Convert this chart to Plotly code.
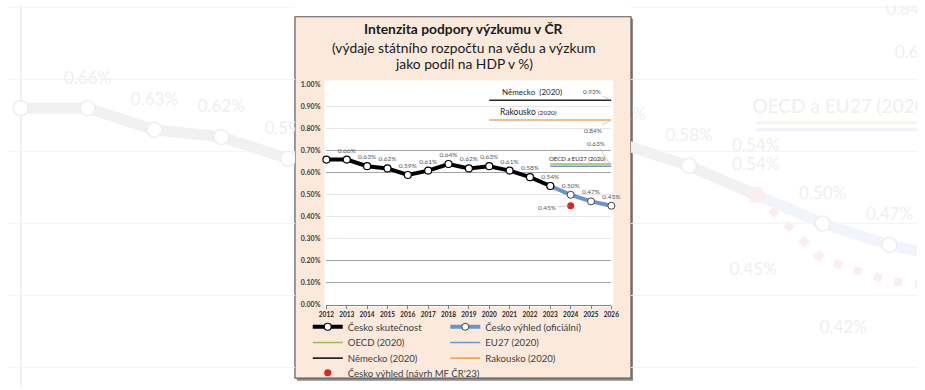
import plotly.graph_objects as go

# ---------------- data ----------------
years_actual = [2012, 2013, 2014, 2015, 2016, 2017, 2018, 2019, 2020, 2021, 2022, 2023]
cz_actual = [0.66, 0.66, 0.63, 0.62, 0.59, 0.61, 0.64, 0.62, 0.63, 0.61, 0.58, 0.54]
years_outlook = [2023, 2024, 2025, 2026]
cz_outlook = [0.54, 0.50, 0.47, 0.45]
years_proposal = [2024]
cz_proposal = [0.45]
years_ref = [2020, 2026]
de_2020 = 0.93
at_2020 = 0.84
years_oecd = [2023, 2026]
oecd_2020 = 0.64
eu27_2020 = 0.63
x_ticks = list(range(2012, 2027))
y_ticks = [0.0, 0.1, 0.2, 0.3, 0.4, 0.5, 0.6, 0.7, 0.8, 0.9, 1.0]
y_ticks_dark = [0.1, 0.2, 0.6, 0.7]

# faded background picture (another version of the chart)
bg_years_proposal = [2023, 2024, 2025, 2026]
bg_cz_proposal = [0.54, 0.45, 0.42, 0.41]
bg_grid = [0.3, 0.4, 0.5, 0.6, 0.7, 0.8]

title_lines = ["<b>Intenzita podpory výzkumu v ČR</b>",
               "(výdaje státního rozpočtu na vědu a výzkum",
               "jako podíl na HDP v %)"]

# ---------------- helpers ----------------
W, H = 925, 390
def px(x):
    return x / W
def py(y):
    return 1 - y / H

FONT = "Lato"
TXT = "#404040"
def pct(v):
    return f"{v:.2f}%"

fig = go.Figure()

# ---------------- background (faded) ----------------
BG_LINE = "#f1f1f1"
BG_TXT = "#efefef"
bg_dy = 0.04
for xa, ya in (("x2", "y2"), ("x3", "y3")):
    fig.add_trace(go.Scatter(x=years_outlook, y=cz_outlook, mode="lines",
                             line=dict(color="#f1f4fa", width=11), xaxis=xa, yaxis=ya,
                             showlegend=False, hoverinfo="skip"))
    fig.add_trace(go.Scatter(x=bg_years_proposal, y=bg_cz_proposal, mode="lines",
                             line=dict(color="#fdeeee", width=8, dash="8px,13px"),
                             xaxis=xa, yaxis=ya, showlegend=False, hoverinfo="skip"))
    fig.add_trace(go.Scatter(x=years_actual, y=cz_actual, mode="lines+markers",
                             line=dict(color=BG_LINE, width=11),
                             marker=dict(size=15, color="white", line=dict(color="#eeeeee", width=1.5)),
                             xaxis=xa, yaxis=ya, showlegend=False, hoverinfo="skip"))
    fig.add_trace(go.Scatter(x=bg_years_proposal[:1], y=bg_cz_proposal[:1], mode="markers",
                             marker=dict(size=16, color="#fdeeee"),
                             xaxis=xa, yaxis=ya, showlegend=False, hoverinfo="skip"))
    fig.add_trace(go.Scatter(x=years_outlook[1:], y=cz_outlook[1:], mode="markers",
                             marker=dict(size=15, color="white", line=dict(color="#eeeeee", width=1.5)),
                             xaxis=xa, yaxis=ya, showlegend=False, hoverinfo="skip"))
    for val, col, w in ((oecd_2020, "#f3f6e9", 3), (eu27_2020, "#eff2f8", 3)):
        fig.add_trace(go.Scatter(x=years_oecd, y=[val, val], mode="lines",
                                 line=dict(color=col, width=w), xaxis=xa, yaxis=ya,
                                 showlegend=False, hoverinfo="skip"))
    # labels
    lab_y = [v + (0.066 if yr == 2023 else bg_dy) for yr, v in zip(years_actual, cz_actual)]
    fig.add_trace(go.Scatter(x=years_actual[1:], y=lab_y[1:], mode="text",
                             text=[pct(v) for v in cz_actual[1:]],
                             textfont=dict(family=FONT, size=17, color=BG_TXT),
                             xaxis=xa, yaxis=ya, showlegend=False, hoverinfo="skip"))
    fig.add_trace(go.Scatter(x=years_outlook, y=[v + bg_dy for v in cz_outlook], mode="text",
                             text=[pct(v) for v in cz_outlook],
                             textfont=dict(family=FONT, size=17, color=BG_TXT),
                             xaxis=xa, yaxis=ya, showlegend=False, hoverinfo="skip"))
    fig.add_trace(go.Scatter(x=[bg_years_proposal[1] - 1.04, bg_years_proposal[2] - 0.69],
                             y=[bg_cz_proposal[1] - 0.016, bg_cz_proposal[2] - 0.066],
                             mode="text", text=[pct(bg_cz_proposal[1]), pct(bg_cz_proposal[2])],
                             textfont=dict(family=FONT, size=17, color=BG_TXT),
                             xaxis=xa, yaxis=ya, showlegend=False, hoverinfo="skip"))
    fig.add_trace(go.Scatter(x=[years_oecd[0] - 0.05], y=[oecd_2020 + 0.02], mode="text",
                             text=["OECD a EU27 (2020)"], textposition="middle right",
                             textfont=dict(family=FONT, size=19, color=BG_TXT),
                             xaxis=xa, yaxis=ya, showlegend=False, hoverinfo="skip"))
    fig.add_trace(go.Scatter(x=[2024.95, 2025.08], y=[0.795, 0.735], mode="text",
                             text=[pct(at_2020), pct(eu27_2020)], textposition="middle right",
                             textfont=dict(family=FONT, size=17, color=BG_TXT),
                             xaxis=xa, yaxis=ya, showlegend=False, hoverinfo="skip"))

# ---------------- main chart ----------------
ref_font = dict(family=FONT, size=6.5, color="#595959")

fig.add_trace(go.Scatter(x=years_ref, y=[de_2020] * 2, mode="lines", name="Německo (2020)",
                         line=dict(color="#262626", width=1.6), legend="legend5",
                         hoverinfo="skip", cliponaxis=False))
fig.add_trace(go.Scatter(x=years_ref, y=[at_2020] * 2, mode="lines", name="Rakousko (2020)",
                         line=dict(color="#f2a561", width=1.6), legend="legend6",
                         hoverinfo="skip", cliponaxis=False))
fig.add_trace(go.Scatter(x=years_oecd, y=[oecd_2020] * 2, mode="lines", name="OECD (2020)",
                         line=dict(color="#9bbb59", width=1.6), legend="legend3",
                         hoverinfo="skip", cliponaxis=False))
fig.add_trace(go.Scatter(x=years_oecd, y=[eu27_2020] * 2, mode="lines", name="EU27 (2020)",
                         line=dict(color="#6f96cf", width=1.6), legend="legend4",
                         hoverinfo="skip", cliponaxis=False))

fig.add_trace(go.Scatter(x=years_outlook, y=cz_outlook, mode="lines+markers+text",
                         name="Česko výhled (oficiální)",
                         line=dict(color="#6892d0", width=4),
                         marker=dict(size=7, color="white", line=dict(color="#404040", width=1)),
                         text=[""] + [pct(v) for v in cz_outlook[1:]], textposition="top center",
                         textfont=ref_font, legend="legend2", hoverinfo="skip", cliponaxis=False))
fig.add_trace(go.Scatter(x=years_actual, y=cz_actual, mode="lines+markers+text",
                         name="Česko skutečnost",
                         line=dict(color="black", width=4),
                         marker=dict(size=7, color="white", line=dict(color="black", width=1.2)),
                         text=[""] + [pct(v) for v in cz_actual[1:]], textposition="top center",
                         textfont=ref_font, legend="legend", hoverinfo="skip", cliponaxis=False))
fig.add_trace(go.Scatter(x=years_proposal, y=cz_proposal, mode="markers",
                         name="Česko výhled (návrh MF ČR'23)", yaxis="y5",
                         marker=dict(size=7, color="#e3221c"), legend="legend7",
                         hoverinfo="skip", cliponaxis=False))

# annotations: title, line labels, leader-line labels
ann = []
for txt, yy in zip(title_lines, (24, 43, 60)):
    ann.append(dict(x=px(464), y=py(yy), xref="paper", yref="paper", text=txt, showarrow=False,
                    xanchor="center", yanchor="middle",
                    font=dict(family=FONT, size=13.8, color="#1a1a1a")))
ann.append(dict(x=2022.1, y=de_2020, xref="x", yref="y", yshift=8, showarrow=False,
                text="Německo  (2020)", font=dict(family=FONT, size=8, color="#262626")))
ann.append(dict(x=2021.95, y=at_2020, xref="x", yref="y", yshift=8, showarrow=False,
                text="Rakousko <span style='font-size:6.5px'>(2020)</span>",
                font=dict(family=FONT, size=8.5, color="#262626")))
ann.append(dict(x=2024.35, y=oecd_2020, xref="x", yref="y", yshift=5, showarrow=False,
                text="OECD a EU27 (2020)", font=dict(family=FONT, size=6, color="#262626")))
for xv, yv, ax, ay in ((years_ref[1], de_2020, -19, -9), (years_ref[1], at_2020, -18, 10),
                       (years_oecd[1], eu27_2020, -15, -23), (years_proposal[0], cz_proposal[0], -24, 2)):
    ann.append(dict(x=xv, y=yv, xref="x", yref="y", text=pct(yv), showarrow=True, arrowhead=0,
                    arrowwidth=0.6, arrowcolor="#a6a6a6", ax=ax, ay=ay, standoff=2,
                    font=ref_font))

shapes = [
    dict(type="rect", xref="paper", yref="paper", x0=px(294), x1=px(636), y0=py(383.5), y1=py(14),
         fillcolor="#8c8c8c", line=dict(width=0), layer="below"),
    dict(type="rect", xref="paper", yref="paper", x0=px(292), x1=px(634), y0=py(381), y1=py(12),
         fillcolor="#fbe9dc", line=dict(color="#595959", width=1.2), layer="below"),
    dict(type="rect", xref="paper", yref="paper", x0=px(322), x1=px(616), y0=py(308), y1=py(77),
         fillcolor="white", line=dict(width=0), layer="below"),
]

# legends: one per entry, placed like the original two-column legend
leg_rows = {"legend": (345, 328.5), "legend2": (485, 328.5), "legend3": (345, 344.5), "legend4": (485, 344.5),
            "legend5": (345, 360.5), "legend6": (485, 360.5), "legend7": (345, 375.5)}
legends = {}
for key, (lx, ly) in leg_rows.items():
    legends[key] = dict(x=px(lx - 40), y=py(ly), xanchor="left", yanchor="middle",
                        bgcolor="rgba(0,0,0,0)", borderwidth=0, itemwidth=30,
                        font=dict(family=FONT, size=9.6, color=TXT))

axis_common = dict(zeroline=False, showticklabels=False, ticks="", showline=False)
fig.update_layout(
    width=W, height=H, margin=dict(l=0, r=0, t=0, b=0),
    paper_bgcolor="white", plot_bgcolor="rgba(0,0,0,0)",
    showlegend=True, annotations=ann, shapes=shapes,
    font=dict(family=FONT, color=TXT),
    xaxis=dict(domain=[px(324), px(614)], range=[2012, 2026], tickvals=x_ticks,
               showgrid=False, zeroline=False, showline=True, linecolor="#808080", linewidth=1.5,
               ticks="outside", ticklen=3, tickcolor="#808080", anchor="y",
               tickfont=dict(family=FONT, size=6.5, color="#262626", weight="bold")),
    yaxis=dict(domain=[py(306), py(81.5)], range=[0, 1.0], tickvals=y_ticks,
               ticktext=[pct(v) for v in y_ticks], showgrid=True, gridcolor="#e6e6e6",
               gridwidth=1, zeroline=False, ticks="", ticklabelstandoff=5, anchor="x",
               tickfont=dict(family=FONT, size=7, color="#404040", weight="bold")),
    yaxis5=dict(overlaying="y", range=[0, 1.0], tickvals=y_ticks_dark, showgrid=True,
                gridcolor="#a6a6a6", gridwidth=1, anchor="x", **axis_common),
    xaxis2=dict(domain=[0, px(292)], range=[2012 - 13 / 68, 2012 + 279 / 68], tickvals=[2012],
                showgrid=True, gridcolor="#f1f1f1", gridwidth=1.5, anchor="y2", **axis_common),
    yaxis2=dict(domain=[0, 1], range=[0.8034 - 390 / 735, 0.8034], tickvals=bg_grid,
                showgrid=True, gridcolor="#f4f4f4", anchor="x2", **axis_common),
    xaxis3=dict(domain=[px(634), 1], range=[2012 + 621 / 68, 2012 + 912 / 68],
                showgrid=False, anchor="y3", **axis_common),
    yaxis3=dict(domain=[0, 1], range=[0.8034 - 390 / 735, 0.8034], tickvals=bg_grid,
                showgrid=True, gridcolor="#f4f4f4", anchor="x3", **axis_common),
    **legends,
)

fig.write_html("out.html", config={"displayModeBar": False, "staticPlot": True},
               post_script="document.body.style.margin='0';document.body.style.overflow='hidden';")
